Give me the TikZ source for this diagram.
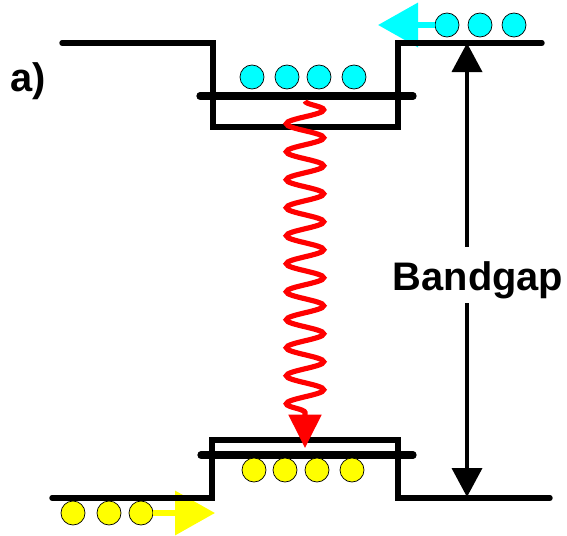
\documentclass[tikz,border=0pt]{standalone}
\usepackage{fontspec}
\setsansfont{Liberation Sans}
\usetikzlibrary{arrows.meta,decorations.pathmorphing}
\definecolor{elcyan}{RGB}{0,255,255}
\definecolor{holeyellow}{RGB}{255,255,0}
\definecolor{photred}{RGB}{255,0,0}

\begin{document}
\begin{tikzpicture}[x=0.03cm, y=-0.03cm,
  band/.style={line width=4.6pt, line cap=round, line join=miter},
  level/.style={line width=6.2pt, line cap=round},
  elec/.style={circle, draw, line width=0.6pt, fill=elcyan, minimum size=0.72cm, inner sep=0pt},
  hole/.style={elec, fill=holeyellow},
  flow/.style={line width=5pt, -{Triangle[width=1.3cm, length=1.2cm]}},
  gaparrow/.style={line width=3.2pt, -{Triangle[width=0.9cm, length=0.87cm]}},
  txt/.style={font=\sffamily\bfseries\fontsize{34}{40}\selectfont, inner sep=0pt}]
  \useasboundingbox (0,0) rectangle (567,535);

  % carriers leaving the well
  \node[elec] (e1) at (447,25) {};
  \node[elec] (e2) at (480,25) {};
  \node[elec] (e3) at (514,25) {};
  \coordinate (etip) at (378,25);
  \draw[flow, elcyan] (e1.west) -- (etip);

  \node[hole] (h1) at (73,513) {};
  \node[hole] (h2) at (109,513) {};
  \node[hole] (h3) at (141,513) {};
  \coordinate (htip) at (215,513);
  \draw[flow, holeyellow] (h3.east) -- (htip);

  % conduction band
  \draw[band] (62,43) -- (213,43) -- (213,127) -- (398,127) -- (398,43) -- (542,43);
  \draw[level] (200,96) -- (413,96);
  \foreach \x/\n in {252/1, 287/2, 319/3, 354/4}
    \node[elec] (w\n) at (\x,77) {};

  % valence band
  \draw[band] (52,498) -- (212,498) -- (212,440) -- (398,440) -- (398,498) -- (550,498);
  \draw[level] (201,455) -- (413,455);
  \foreach \x/\n in {254/1, 285/2, 317/3, 352/4}
    \node[hole] (v\n) at (\x,470) {};

  % recombination
  \coordinate (cbot) at (305,101);
  \coordinate (vtop) at (305,448);
  \draw[photred, line width=4.4pt, decorate,
        decoration={snake, segment length=0.84cm, amplitude=0.56cm, post length=0.75cm},
        -{Triangle[width=0.96cm, length=1cm]}] (cbot) -- (vtop);

  % gap
  \node[txt] (lbl) at (28,81) {a)};
  \node[txt, anchor=base] (gap) at (478,290) {Bandgap};
  \coordinate (gtop) at (467,43);
  \coordinate (gbot) at (467,497);
  \draw[gaparrow] ([yshift=12pt]gap.north -| gtop) -- (gtop);
  \draw[gaparrow] ([yshift=-4pt]gap.south -| gbot) -- (gbot);
\end{tikzpicture}
\end{document}
